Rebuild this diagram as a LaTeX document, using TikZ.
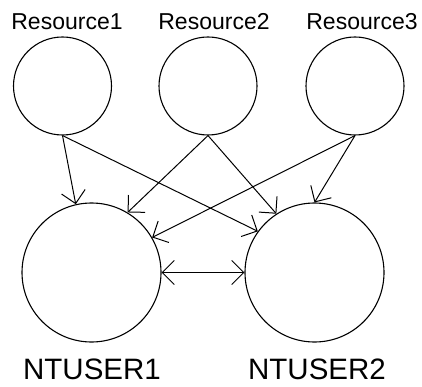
\documentclass[tikz,border=0pt]{standalone}
\usepackage{fontspec}
\setmainfont{Liberation Sans}
\usetikzlibrary{arrows.meta}
\begin{document}
\begin{tikzpicture}[x=1pt,y=-1pt,
  res/.style={circle,draw,line width=1.1pt,inner sep=0pt,minimum size=98pt},
  usr/.style={circle,draw,line width=1.1pt,inner sep=0pt,minimum size=139pt},
  rlabel/.style={anchor=base,inner sep=0pt,font=\fontsize{23}{23}\selectfont},
  ulabel/.style={anchor=base,inner sep=0pt,text depth=0pt,font=\fontsize{29.5}{29.5}\selectfont},
  conn/.style={line width=1pt,-{Straight Barb[length=12pt,width=24pt,line width=1pt]}},
  biconn/.style={line width=1pt,{Straight Barb[length=12pt,width=24pt,line width=1pt]}-{Straight Barb[length=12pt,width=24pt,line width=1pt]}}
]
\useasboundingbox (0,0) rectangle (422,387);
\node[res] (r1) at (62.5,86) {};
\node[res] (r2) at (208,86) {};
\node[res] (r3) at (355,86) {};
\node[usr] (n1) at (91.5,272.5) {};
\node[usr] (n2) at (314.5,272.5) {};
\node[rlabel] (l1) at (67,30) {Resource1};
\node[rlabel] (l2) at (214,30) {Resource2};
\node[rlabel] (l3) at (362,30) {Resource3};
\node[ulabel] (u1) at (92,379) {NTUSER1};
\node[ulabel] (u2) at (317,379) {NTUSER2};
\draw[conn] (r1.south) -- (n1.103);
\draw[conn] (r1.south) -- (n2.144);
\draw[conn] (r2.south) -- (n1.59);
\draw[conn] (r2.south) -- (n2.123);
\draw[conn] (r3.south) -- (n1.30);
\draw[conn] (r3.south) -- (n2.90);
\draw[biconn] (n1.east) -- (n2.west);
\end{tikzpicture}
\end{document}
